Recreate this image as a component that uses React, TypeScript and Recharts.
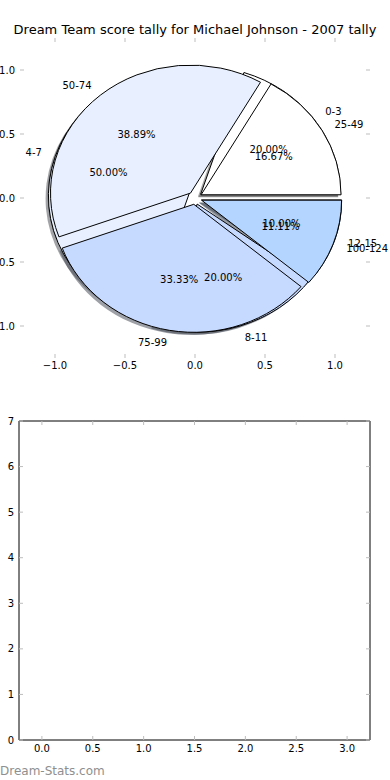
import React from "react";
import { PieChart, Pie, Sector, ScatterChart, Scatter, XAxis, YAxis } from "recharts";

// tallies per score band
const rangesA = ["0-3", "4-7", "8-11", "12-15"];
const tallyA = [2, 5, 2, 1];
const rangesB = ["25-49", "50-74", "75-99", "100-124"];
const tallyB = [3, 7, 6, 2];
const sliceColors = ["#ffffff", "#e8f0ff", "#c6d9ff", "#b3d5ff"];

const pieAxisTicks = [-1, -0.5, 0, 0.5, 1];
const panelXTicks = [0, 0.5, 1, 1.5, 2, 2.5, 3];
const panelYTicks = [0, 1, 2, 3, 4, 5, 6, 7];
// the lower panel is drawn empty in the original
const panelPoints: { x: number; y: number }[] = [];

const FONT = '"DejaVu Sans", sans-serif';
const TICK_GREY = "#bdbdbd";

// matplotlib pie in a [-1.25, 1.25] box with unequal x/y scale -> ellipse
const CX = 195;
const CY = 198;
const RX = 140;
const RY = 128;
const SQUASH = RY / RX;
const EXPLODE = 0.05;
const SHADOW = 0.02;

const toSlices = (names: string[], values: number[], colored: boolean) =>
  names.map((name, i) => ({ name, value: values[i], fill: colored ? sliceColors[i] : "none" }));

const sliceData = [toSlices(rangesA, tallyA, true), toSlices(rangesB, tallyB, true)];
const textData = [toSlices(rangesA, tallyA, false), toSlices(rangesB, tallyB, false)];

const fmtTick = (v: number) => (v < 0 ? "\u2212" + Math.abs(v).toFixed(1) : v.toFixed(1));

// matplotlib's Shadow patch: 0.3 * facecolor at half alpha
function shadeOf(hex: string) {
  const n = parseInt(hex.slice(1), 16);
  const r = Math.round(((n >> 16) & 255) * 0.3);
  const g = Math.round(((n >> 8) & 255) * 0.3);
  const b = Math.round((n & 255) * 0.3);
  return `rgb(${r},${g},${b})`;
}

function wedge(props: any, shadow: boolean) {
  const { cx, cy, midAngle, outerRadius, startAngle, endAngle, fill } = props;
  const a = (midAngle * Math.PI) / 180;
  let x = cx + EXPLODE * outerRadius * Math.cos(a);
  let y = cy - EXPLODE * outerRadius * Math.sin(a);
  if (shadow) {
    x -= SHADOW * outerRadius;
    y += SHADOW * outerRadius;
  }
  return (
    <g transform={`translate(0 ${cy * (1 - SQUASH)}) scale(1 ${SQUASH})`}>
      <Sector
        cx={x}
        cy={y}
        innerRadius={0}
        outerRadius={outerRadius}
        startAngle={startAngle}
        endAngle={endAngle}
        fill={shadow ? shadeOf(fill) : fill}
        fillOpacity={shadow ? 0.5 : 1}
        stroke={shadow ? "none" : "#000"}
        strokeWidth={1}
        vectorEffect="non-scaling-stroke"
      />
    </g>
  );
}

const sliceShape = (props: any) => wedge(props, false);
const shadowShape = (props: any) => wedge(props, true);

function sliceText(props: any) {
  const { cx, cy, midAngle, percent, name } = props;
  const a = (midAngle * Math.PI) / 180;
  const c = Math.cos(a);
  const s = Math.sin(a);
  const lx = cx + (EXPLODE + 1.1) * RX * c;
  const ly = cy - (EXPLODE + 1.1) * RY * s;
  const px = cx + (EXPLODE + 0.6) * RX * c;
  const py = cy - (EXPLODE + 0.6) * RY * s;
  return (
    <g>
      <text x={lx} y={ly} textAnchor={c > 0 ? "start" : "end"} dominantBaseline="central" fontSize={10} fontFamily={FONT} fill="#000">
        {name}
      </text>
      <text x={px} y={py} textAnchor="middle" dominantBaseline="central" fontSize={10} fontFamily={FONT} fill="#000">
        {(percent * 100).toFixed(2)}%
      </text>
    </g>
  );
}

// ticks drawn inward like matplotlib's classic style; tickSize/tickMargin are 0
// so x/y arrive on the axis line itself
function makeTick(side: "bottom" | "top" | "left" | "right", labelled: boolean, fmt: (v: number) => string, gap: number) {
  return (props: any) => {
    const { x, y, payload } = props;
    const v = payload.value as number;
    const len = 4;
    let mark = null;
    let label = null;
    if (side === "bottom") {
      mark = <line x1={x} y1={y} x2={x} y2={y - len} stroke={TICK_GREY} />;
      if (labelled)
        label = (
          <text x={x} y={y + gap} textAnchor="middle" fontSize={10} fontFamily={FONT} fill="#000">
            {fmt(v)}
          </text>
        );
    } else if (side === "top") {
      mark = <line x1={x} y1={y} x2={x} y2={y + len} stroke={TICK_GREY} />;
    } else if (side === "left") {
      mark = <line x1={x} y1={y} x2={x + len} y2={y} stroke={TICK_GREY} />;
      if (labelled)
        label = (
          <text x={x - gap} y={y} textAnchor="end" dominantBaseline="central" fontSize={10} fontFamily={FONT} fill="#000">
            {fmt(v)}
          </text>
        );
    } else {
      mark = <line x1={x} y1={y} x2={x - len} y2={y} stroke={TICK_GREY} />;
    }
    return (
      <g>
        {mark}
        {label}
      </g>
    );
  };
}

const intTick = (v: number) => String(v);

function PieAxes() {
  return (
    <ScatterChart width={390} height={380} margin={{ top: 30, right: 0, bottom: 0, left: 0 }}>
      <XAxis xAxisId="b" type="number" dataKey="x" domain={[-1.25, 1.25]} allowDataOverflow ticks={pieAxisTicks} interval={0} height={22} tickSize={0} tickMargin={0} axisLine={false} tickLine={false} tick={makeTick("bottom", true, fmtTick, 11)} />
      <XAxis xAxisId="t" orientation="top" type="number" dataKey="x" domain={[-1.25, 1.25]} allowDataOverflow ticks={pieAxisTicks} interval={0} height={8} tickSize={0} tickMargin={0} axisLine={false} tickLine={false} tick={makeTick("top", false, fmtTick, 0)} />
      <YAxis yAxisId="l" type="number" dataKey="y" domain={[-1.25, 1.25]} allowDataOverflow ticks={pieAxisTicks} interval={0} width={20} tickSize={0} tickMargin={0} axisLine={false} tickLine={false} tick={makeTick("left", true, fmtTick, 5)} />
      <YAxis yAxisId="r" orientation="right" type="number" dataKey="y" domain={[-1.25, 1.25]} allowDataOverflow ticks={pieAxisTicks} interval={0} width={20} tickSize={0} tickMargin={0} axisLine={false} tickLine={false} tick={makeTick("right", false, fmtTick, 0)} />
      <Scatter xAxisId="b" yAxisId="l" data={panelPoints} isAnimationActive={false} />
    </ScatterChart>
  );
}

function TallyPies() {
  const common = {
    dataKey: "value",
    nameKey: "name",
    cx: CX,
    cy: CY,
    innerRadius: 0,
    outerRadius: RX,
    startAngle: 0,
    endAngle: 360,
    isAnimationActive: false,
    labelLine: false,
  };
  return (
    <PieChart width={390} height={380} margin={{ top: 0, right: 0, bottom: 0, left: 0 }}>
      <Pie {...common} data={sliceData[0]} stroke="none" shape={shadowShape} />
      <Pie {...common} data={sliceData[1]} stroke="none" shape={shadowShape} />
      <Pie {...common} data={sliceData[0]} stroke="#000" shape={sliceShape} />
      <Pie {...common} data={sliceData[1]} stroke="#000" shape={sliceShape} />
      <Pie {...common} data={textData[0]} stroke="none" label={sliceText} />
      <Pie {...common} data={textData[1]} stroke="none" label={sliceText} />
    </PieChart>
  );
}

function EmptyPanel() {
  return (
    <ScatterChart width={390} height={390} margin={{ top: 23, right: 0, bottom: 0, left: 0 }}>
      <XAxis xAxisId="b" type="number" dataKey="x" domain={[-0.225, 3.225]} allowDataOverflow ticks={panelXTicks} interval={0} height={40} tickSize={0} tickMargin={0} axisLine={{ stroke: "#000" }} tickLine={false} tick={makeTick("bottom", true, fmtTick, 12)} />
      <XAxis xAxisId="t" orientation="top" type="number" dataKey="x" domain={[-0.225, 3.225]} allowDataOverflow ticks={panelXTicks} interval={0} height={8} tickSize={0} tickMargin={0} axisLine={{ stroke: "#000" }} tickLine={false} tick={makeTick("top", false, fmtTick, 0)} />
      <YAxis yAxisId="l" type="number" dataKey="y" domain={[0, 7]} allowDataOverflow ticks={panelYTicks} interval={0} width={19} tickSize={0} tickMargin={0} axisLine={{ stroke: "#000" }} tickLine={false} tick={makeTick("left", true, intTick, 5)} />
      <YAxis yAxisId="r" orientation="right" type="number" dataKey="y" domain={[0, 7]} allowDataOverflow ticks={panelYTicks} interval={0} width={20} tickSize={0} tickMargin={0} axisLine={{ stroke: "#000" }} tickLine={false} tick={makeTick("right", false, intTick, 0)} />
      <Scatter xAxisId="b" yAxisId="l" data={panelPoints} isAnimationActive={false} />
    </ScatterChart>
  );
}

export default function App() {
  const layer: React.CSSProperties = { position: "absolute", left: 0, top: 0 };
  return (
    <div style={{ position: "absolute", left: 0, top: 0, width: 390, height: 780, background: "#fff", overflow: "hidden" }}>
      <div style={layer}>
        <PieAxes />
      </div>
      <div style={layer}>
        <TallyPies />
      </div>
      <div style={{ ...layer, top: 390 }}>
        <EmptyPanel />
      </div>
      <svg width={390} height={780} style={{ ...layer, pointerEvents: "none" }}>
        <text x={195} y={34} textAnchor="middle" fontSize={13} fontFamily={FONT} fill="#000">
          Dream Team score tally for Michael Johnson - 2007 tally
        </text>
        <text x={0} y={775} fontSize={12} fontFamily={FONT} fill="#8f8f8f">
          Dream-Stats.com
        </text>
      </svg>
    </div>
  );
}
